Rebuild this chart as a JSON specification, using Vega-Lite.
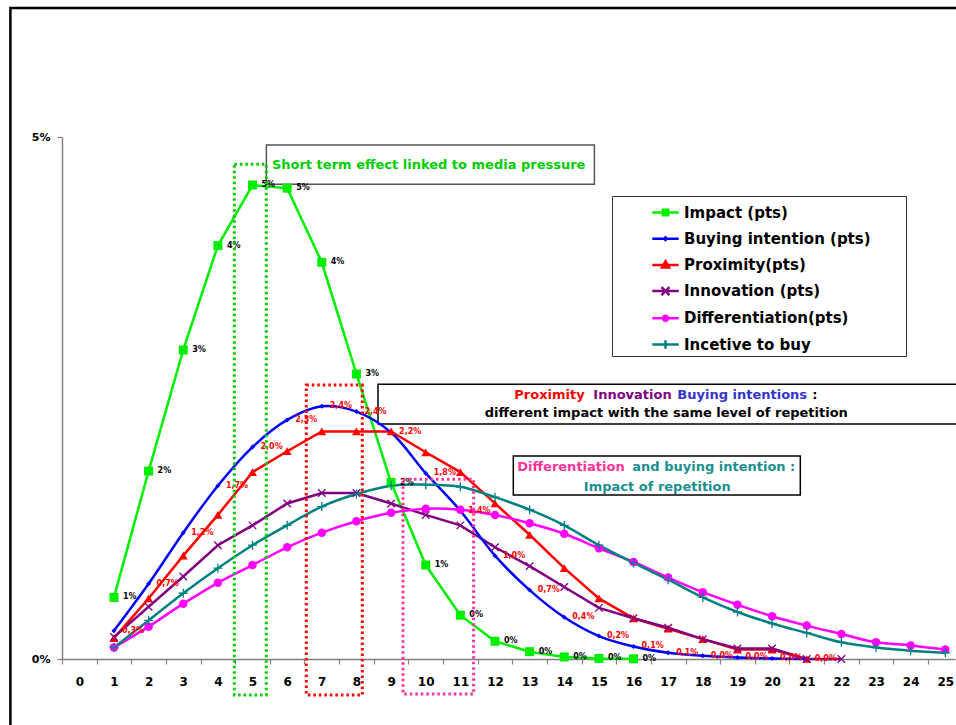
{
  "$schema": "https://vega.github.io/schema/vega-lite/v6.json",
  "width": 893,
  "height": 522,
  "autosize": "none",
  "padding": {"left": 62, "top": 137, "right": 1, "bottom": 66},
  "background": "white",
  "config": {
    "view": {"stroke": null},
    "locale": {"number": {"decimal": ",", "thousands": ".", "grouping": [3], "currency": ["", " €"]}},
    "font": "DejaVu Sans"
  },
  "datasets": {"main": [
    {"series": "Impact (pts)", "x": 1, "v": 0.0059}, {"series": "Impact (pts)", "x": 2, "v": 0.0180}, {"series": "Impact (pts)", "x": 3, "v": 0.0296}, {"series": "Impact (pts)", "x": 4, "v": 0.0396}, {"series": "Impact (pts)", "x": 5, "v": 0.0454}, {"series": "Impact (pts)", "x": 6, "v": 0.0451}, {"series": "Impact (pts)", "x": 7, "v": 0.0380}, {"series": "Impact (pts)", "x": 8, "v": 0.0273}, {"series": "Impact (pts)", "x": 9, "v": 0.0169}, {"series": "Impact (pts)", "x": 10, "v": 0.0090}, {"series": "Impact (pts)", "x": 11, "v": 0.0042}, {"series": "Impact (pts)", "x": 12, "v": 0.0017}, {"series": "Impact (pts)", "x": 13, "v": 0.0007}, {"series": "Impact (pts)", "x": 14, "v": 0.0002}, {"series": "Impact (pts)", "x": 15, "v": 0.00005}, {"series": "Impact (pts)", "x": 16, "v": 0.00002},
    {"series": "Buying intention (pts)", "x": 1, "v": 0.0027}, {"series": "Buying intention (pts)", "x": 2, "v": 0.0072}, {"series": "Buying intention (pts)", "x": 3, "v": 0.0121}, {"series": "Buying intention (pts)", "x": 4, "v": 0.0166}, {"series": "Buying intention (pts)", "x": 5, "v": 0.0203}, {"series": "Buying intention (pts)", "x": 6, "v": 0.0229}, {"series": "Buying intention (pts)", "x": 7, "v": 0.0242}, {"series": "Buying intention (pts)", "x": 8, "v": 0.0237}, {"series": "Buying intention (pts)", "x": 9, "v": 0.0217}, {"series": "Buying intention (pts)", "x": 10, "v": 0.0178}, {"series": "Buying intention (pts)", "x": 11, "v": 0.0142}, {"series": "Buying intention (pts)", "x": 12, "v": 0.0099}, {"series": "Buying intention (pts)", "x": 13, "v": 0.0066}, {"series": "Buying intention (pts)", "x": 14, "v": 0.0040}, {"series": "Buying intention (pts)", "x": 15, "v": 0.0022}, {"series": "Buying intention (pts)", "x": 16, "v": 0.0012}, {"series": "Buying intention (pts)", "x": 17, "v": 0.0006}, {"series": "Buying intention (pts)", "x": 18, "v": 0.0003}, {"series": "Buying intention (pts)", "x": 19, "v": 0.00015}, {"series": "Buying intention (pts)", "x": 20, "v": 0.00005}, {"series": "Buying intention (pts)", "x": 21, "v": 0},
    {"series": "Proximity(pts)", "x": 1, "v": 0.0020}, {"series": "Proximity(pts)", "x": 2, "v": 0.0058}, {"series": "Proximity(pts)", "x": 3, "v": 0.0099}, {"series": "Proximity(pts)", "x": 4, "v": 0.0138}, {"series": "Proximity(pts)", "x": 5, "v": 0.0179}, {"series": "Proximity(pts)", "x": 6, "v": 0.0199}, {"series": "Proximity(pts)", "x": 7, "v": 0.0218}, {"series": "Proximity(pts)", "x": 8, "v": 0.0218}, {"series": "Proximity(pts)", "x": 9, "v": 0.0218}, {"series": "Proximity(pts)", "x": 10, "v": 0.0198}, {"series": "Proximity(pts)", "x": 11, "v": 0.0179}, {"series": "Proximity(pts)", "x": 12, "v": 0.0149}, {"series": "Proximity(pts)", "x": 13, "v": 0.0119}, {"series": "Proximity(pts)", "x": 14, "v": 0.0087}, {"series": "Proximity(pts)", "x": 15, "v": 0.0058}, {"series": "Proximity(pts)", "x": 16, "v": 0.0039}, {"series": "Proximity(pts)", "x": 17, "v": 0.0029}, {"series": "Proximity(pts)", "x": 18, "v": 0.0019}, {"series": "Proximity(pts)", "x": 19, "v": 0.0009}, {"series": "Proximity(pts)", "x": 20, "v": 0.0009}, {"series": "Proximity(pts)", "x": 21, "v": 0},
    {"series": "Innovation (pts)", "x": 1, "v": 0.0021}, {"series": "Innovation (pts)", "x": 2, "v": 0.0050}, {"series": "Innovation (pts)", "x": 3, "v": 0.0079}, {"series": "Innovation (pts)", "x": 4, "v": 0.0109}, {"series": "Innovation (pts)", "x": 5, "v": 0.0128}, {"series": "Innovation (pts)", "x": 6, "v": 0.0149}, {"series": "Innovation (pts)", "x": 7, "v": 0.0159}, {"series": "Innovation (pts)", "x": 8, "v": 0.0159}, {"series": "Innovation (pts)", "x": 9, "v": 0.0149}, {"series": "Innovation (pts)", "x": 10, "v": 0.0138}, {"series": "Innovation (pts)", "x": 11, "v": 0.0128}, {"series": "Innovation (pts)", "x": 12, "v": 0.0107}, {"series": "Innovation (pts)", "x": 13, "v": 0.0089}, {"series": "Innovation (pts)", "x": 14, "v": 0.0069}, {"series": "Innovation (pts)", "x": 15, "v": 0.0049}, {"series": "Innovation (pts)", "x": 16, "v": 0.0039}, {"series": "Innovation (pts)", "x": 17, "v": 0.0030}, {"series": "Innovation (pts)", "x": 18, "v": 0.0019}, {"series": "Innovation (pts)", "x": 19, "v": 0.0010}, {"series": "Innovation (pts)", "x": 20, "v": 0.0010}, {"series": "Innovation (pts)", "x": 21, "v": 0}, {"series": "Innovation (pts)", "x": 22, "v": 0},
    {"series": "Differentiation(pts)", "x": 1, "v": 0.0011}, {"series": "Differentiation(pts)", "x": 2, "v": 0.0031}, {"series": "Differentiation(pts)", "x": 3, "v": 0.0053}, {"series": "Differentiation(pts)", "x": 4, "v": 0.0073}, {"series": "Differentiation(pts)", "x": 5, "v": 0.0090}, {"series": "Differentiation(pts)", "x": 6, "v": 0.0107}, {"series": "Differentiation(pts)", "x": 7, "v": 0.0121}, {"series": "Differentiation(pts)", "x": 8, "v": 0.0132}, {"series": "Differentiation(pts)", "x": 9, "v": 0.0140}, {"series": "Differentiation(pts)", "x": 10, "v": 0.0144}, {"series": "Differentiation(pts)", "x": 11, "v": 0.0143}, {"series": "Differentiation(pts)", "x": 12, "v": 0.0138}, {"series": "Differentiation(pts)", "x": 13, "v": 0.0130}, {"series": "Differentiation(pts)", "x": 14, "v": 0.0120}, {"series": "Differentiation(pts)", "x": 15, "v": 0.0106}, {"series": "Differentiation(pts)", "x": 16, "v": 0.0093}, {"series": "Differentiation(pts)", "x": 17, "v": 0.0078}, {"series": "Differentiation(pts)", "x": 18, "v": 0.0064}, {"series": "Differentiation(pts)", "x": 19, "v": 0.0052}, {"series": "Differentiation(pts)", "x": 20, "v": 0.0041}, {"series": "Differentiation(pts)", "x": 21, "v": 0.0032}, {"series": "Differentiation(pts)", "x": 22, "v": 0.0024}, {"series": "Differentiation(pts)", "x": 23, "v": 0.0016}, {"series": "Differentiation(pts)", "x": 24, "v": 0.0013}, {"series": "Differentiation(pts)", "x": 25, "v": 0.0009},
    {"series": "Incetive to buy", "x": 1, "v": 0.0011}, {"series": "Incetive to buy", "x": 2, "v": 0.0037}, {"series": "Incetive to buy", "x": 3, "v": 0.0063}, {"series": "Incetive to buy", "x": 4, "v": 0.0087}, {"series": "Incetive to buy", "x": 5, "v": 0.0109}, {"series": "Incetive to buy", "x": 6, "v": 0.0128}, {"series": "Incetive to buy", "x": 7, "v": 0.0146}, {"series": "Incetive to buy", "x": 8, "v": 0.0158}, {"series": "Incetive to buy", "x": 9, "v": 0.0166}, {"series": "Incetive to buy", "x": 10, "v": 0.0167}, {"series": "Incetive to buy", "x": 11, "v": 0.0165}, {"series": "Incetive to buy", "x": 12, "v": 0.0155}, {"series": "Incetive to buy", "x": 13, "v": 0.0143}, {"series": "Incetive to buy", "x": 14, "v": 0.0128}, {"series": "Incetive to buy", "x": 15, "v": 0.0109}, {"series": "Incetive to buy", "x": 16, "v": 0.0092}, {"series": "Incetive to buy", "x": 17, "v": 0.0076}, {"series": "Incetive to buy", "x": 18, "v": 0.0059}, {"series": "Incetive to buy", "x": 19, "v": 0.0045}, {"series": "Incetive to buy", "x": 20, "v": 0.0034}, {"series": "Incetive to buy", "x": 21, "v": 0.0025}, {"series": "Incetive to buy", "x": 22, "v": 0.0016}, {"series": "Incetive to buy", "x": 23, "v": 0.0011}, {"series": "Incetive to buy", "x": 24, "v": 0.0008}, {"series": "Incetive to buy", "x": 25, "v": 0.0006}
  ], "one": [{"n": 1}]},
  "resolve": {"scale": {"x": "independent", "y": "independent"}, "axis": {"x": "independent", "y": "independent"}},
  "layer": [
    {"data": {"name": "one"},
     "layer": [
      {"mark": {"type": "rect", "fillOpacity": 0, "stroke": "#000", "strokeWidth": 2.5},
       "encoding": {"x": {"datum": -1.99, "type": "quantitative", "scale": {"domain": [-0.5, 25.28], "nice": false, "zero": false}, "axis": {"orient": "top", "labels": false, "ticks": false, "domain": false, "grid": false, "title": null}}, "x2": {"datum": 40},
                    "y": {"datum": 0.06236, "type": "quantitative", "scale": {"domain": [0, 0.05], "nice": false, "zero": false}, "axis": {"orient": "right", "labels": false, "ticks": false, "domain": false, "grid": false, "title": null}}, "y2": {"datum": -0.2}}},
      {"mark": {"type": "rect", "fill": "white", "stroke": "#555", "strokeWidth": 1.5},
       "encoding": {"x": {"datum": 5.40, "type": "quantitative", "axis": {"orient": "top", "labels": false, "ticks": false, "domain": false, "grid": false, "title": null}}, "x2": {"datum": 14.87},
                    "y": {"datum": 0.04924, "type": "quantitative", "axis": {"orient": "right", "labels": false, "ticks": false, "domain": false, "grid": false, "title": null}}, "y2": {"datum": 0.04547}}},
      {"mark": {"type": "rect", "fill": "white", "stroke": "#000", "strokeWidth": 1.5},
       "encoding": {"x": {"datum": 8.623, "type": "quantitative", "axis": {"orient": "top", "labels": false, "ticks": false, "domain": false, "grid": false, "title": null}}, "x2": {"datum": 27},
                    "y": {"datum": 0.02631, "type": "quantitative", "axis": {"orient": "right", "labels": false, "ticks": false, "domain": false, "grid": false, "title": null}}, "y2": {"datum": 0.02250}}},
      {"mark": {"type": "rect", "fill": "white", "stroke": "#000", "strokeWidth": 1.5},
       "encoding": {"x": {"datum": 12.529, "type": "quantitative", "axis": {"orient": "top", "labels": false, "ticks": false, "domain": false, "grid": false, "title": null}}, "x2": {"datum": 20.814},
                    "y": {"datum": 0.01944, "type": "quantitative", "axis": {"orient": "right", "labels": false, "ticks": false, "domain": false, "grid": false, "title": null}}, "y2": {"datum": 0.01571}}},
      {"mark": {"type": "text", "text": "Short term effect linked to media pressure", "align": "left", "baseline": "middle", "font": "DejaVu Sans", "fontWeight": "bold", "fontSize": 13, "color": "#00cc00"},
       "encoding": {"x": {"datum": 5.56, "type": "quantitative", "axis": {"orient": "top", "labels": false, "ticks": false, "domain": false, "grid": false, "title": null}}, "y": {"datum": 0.04732, "type": "quantitative", "axis": {"orient": "right", "labels": false, "ticks": false, "domain": false, "grid": false, "title": null}}}},
      {"mark": {"type": "text", "text": "Proximity", "align": "left", "baseline": "middle", "font": "DejaVu Sans", "fontWeight": "bold", "fontSize": 13, "color": "#ff0000"},
       "encoding": {"x": {"datum": 12.558, "type": "quantitative", "axis": {"orient": "top", "labels": false, "ticks": false, "domain": false, "grid": false, "title": null}}, "y": {"datum": 0.02529, "type": "quantitative", "axis": {"orient": "right", "labels": false, "ticks": false, "domain": false, "grid": false, "title": null}}}},
      {"mark": {"type": "text", "text": "Innovation", "align": "left", "baseline": "middle", "font": "DejaVu Sans", "fontWeight": "bold", "fontSize": 13, "color": "#800080"},
       "encoding": {"x": {"datum": 14.838, "type": "quantitative", "axis": {"orient": "top", "labels": false, "ticks": false, "domain": false, "grid": false, "title": null}}, "y": {"datum": 0.02529, "type": "quantitative", "axis": {"orient": "right", "labels": false, "ticks": false, "domain": false, "grid": false, "title": null}}}},
      {"mark": {"type": "text", "text": "Buying intentions", "align": "left", "baseline": "middle", "font": "DejaVu Sans", "fontWeight": "bold", "fontSize": 13, "color": "#3333cc"},
       "encoding": {"x": {"datum": 17.263, "type": "quantitative", "axis": {"orient": "top", "labels": false, "ticks": false, "domain": false, "grid": false, "title": null}}, "y": {"datum": 0.02529, "type": "quantitative", "axis": {"orient": "right", "labels": false, "ticks": false, "domain": false, "grid": false, "title": null}}}},
      {"mark": {"type": "text", "text": ":", "align": "left", "baseline": "middle", "font": "DejaVu Sans", "fontWeight": "bold", "fontSize": 13, "color": "#000"},
       "encoding": {"x": {"datum": 21.16, "type": "quantitative", "axis": {"orient": "top", "labels": false, "ticks": false, "domain": false, "grid": false, "title": null}}, "y": {"datum": 0.02529, "type": "quantitative", "axis": {"orient": "right", "labels": false, "ticks": false, "domain": false, "grid": false, "title": null}}}},
      {"mark": {"type": "text", "text": "different impact with the same level of repetition", "align": "center", "baseline": "middle", "font": "DejaVu Sans", "fontWeight": "bold", "fontSize": 13, "color": "#000"},
       "encoding": {"x": {"datum": 16.946, "type": "quantitative", "axis": {"orient": "top", "labels": false, "ticks": false, "domain": false, "grid": false, "title": null}}, "y": {"datum": 0.02356, "type": "quantitative", "axis": {"orient": "right", "labels": false, "ticks": false, "domain": false, "grid": false, "title": null}}}},
      {"mark": {"type": "text", "text": "Differentiation", "align": "left", "baseline": "middle", "font": "DejaVu Sans", "fontWeight": "bold", "fontSize": 13, "color": "#ff3399"},
       "encoding": {"x": {"datum": 12.644, "type": "quantitative", "axis": {"orient": "top", "labels": false, "ticks": false, "domain": false, "grid": false, "title": null}}, "y": {"datum": 0.01836, "type": "quantitative", "axis": {"orient": "right", "labels": false, "ticks": false, "domain": false, "grid": false, "title": null}}}},
      {"mark": {"type": "text", "text": "and buying intention :", "align": "left", "baseline": "middle", "font": "DejaVu Sans", "fontWeight": "bold", "fontSize": 13, "color": "#1a8f8f"},
       "encoding": {"x": {"datum": 15.964, "type": "quantitative", "axis": {"orient": "top", "labels": false, "ticks": false, "domain": false, "grid": false, "title": null}}, "y": {"datum": 0.01836, "type": "quantitative", "axis": {"orient": "right", "labels": false, "ticks": false, "domain": false, "grid": false, "title": null}}}},
      {"mark": {"type": "text", "text": "Impact of repetition", "align": "center", "baseline": "middle", "font": "DejaVu Sans", "fontWeight": "bold", "fontSize": 13, "color": "#1a8f8f"},
       "encoding": {"x": {"datum": 16.686, "type": "quantitative", "axis": {"orient": "top", "labels": false, "ticks": false, "domain": false, "grid": false, "title": null}}, "y": {"datum": 0.01648, "type": "quantitative", "axis": {"orient": "right", "labels": false, "ticks": false, "domain": false, "grid": false, "title": null}}}}
     ]},
    {"data": {"name": "main"},
     "layer": [
      {"transform": [{"filter": "datum.series === 'Impact (pts)'"}],
       "mark": {"type": "line", "strokeWidth": 2.5, "color": "#00ee00"},
       "encoding": {
         "x": {"field": "x", "type": "quantitative",
           "scale": {"domain": [-0.5, 25.28], "nice": false, "zero": false},
           "axis": {"orient": "bottom", "values": [-0.5, 0.5, 1.5, 2.5, 3.5, 4.5, 5.5, 6.5, 7.5, 8.5, 9.5, 10.5, 11.5, 12.5, 13.5, 14.5, 15.5, 16.5, 17.5, 18.5, 19.5, 20.5, 21.5, 22.5, 23.5, 24.5],
             "tickCount": 40,
             "labelExpr": "format(datum.value + 0.5, 'd')", "labelOffset": 17.32, "labelFlush": false, "labelOverlap": false, "labelBound": false,
             "grid": false, "title": null, "domainColor": "#808080", "domainWidth": 1.5, "tickColor": "#808080", "tickSize": 5, "tickWidth": 1.2,
             "labelFont": "DejaVu Sans", "labelFontWeight": "bold", "labelFontSize": 12, "labelColor": "#000", "labelPadding": 12}},
         "y": {"field": "v", "type": "quantitative",
           "scale": {"domain": [0, 0.05], "nice": false, "zero": false},
           "axis": {"orient": "left", "values": [0, 0.05], "tickCount": 10, "format": ".0%", "labelFlush": false, "labelOverlap": false, "grid": false, "title": null,
             "domainColor": "#808080", "domainWidth": 1.5, "tickColor": "#808080", "tickSize": 5, "tickWidth": 1.2,
             "labelFont": "DejaVu Sans", "labelFontWeight": "bold", "labelFontSize": 11, "labelColor": "#000", "labelPadding": 7}}}},
      {"transform": [{"filter": "datum.series === 'Proximity(pts)'"}], "mark": {"type": "line", "strokeWidth": 2.5, "color": "#ff0000"},
       "encoding": {"x": {"field": "x", "type": "quantitative"}, "y": {"field": "v", "type": "quantitative"}}},
      {"transform": [{"filter": "datum.series === 'Innovation (pts)'"}], "mark": {"type": "line", "strokeWidth": 2.5, "color": "#800080"},
       "encoding": {"x": {"field": "x", "type": "quantitative"}, "y": {"field": "v", "type": "quantitative"}}},
      {"transform": [{"filter": "datum.series === 'Buying intention (pts)'"}], "mark": {"type": "line", "strokeWidth": 2.5, "color": "#0000ff", "interpolate": "catmull-rom"},
       "encoding": {"x": {"field": "x", "type": "quantitative"}, "y": {"field": "v", "type": "quantitative"}}},
      {"transform": [{"filter": "datum.series === 'Differentiation(pts)'"}], "mark": {"type": "line", "strokeWidth": 2.5, "color": "#ff00ff", "interpolate": "catmull-rom"},
       "encoding": {"x": {"field": "x", "type": "quantitative"}, "y": {"field": "v", "type": "quantitative"}}},
      {"transform": [{"filter": "datum.series === 'Incetive to buy'"}], "mark": {"type": "line", "strokeWidth": 2.5, "color": "#008080", "interpolate": "catmull-rom"},
       "encoding": {"x": {"field": "x", "type": "quantitative"}, "y": {"field": "v", "type": "quantitative"}}},
      {"transform": [{"filter": "datum.series === 'Impact (pts)'"}], "mark": {"type": "point", "shape": "square", "filled": true, "size": 81, "color": "#00ee00", "opacity": 1},
       "encoding": {"x": {"field": "x", "type": "quantitative"}, "y": {"field": "v", "type": "quantitative"}}},
      {"transform": [{"filter": "datum.series === 'Buying intention (pts)'"}], "mark": {"type": "point", "shape": "diamond", "filled": true, "size": 25, "color": "#0000ff", "opacity": 1},
       "encoding": {"x": {"field": "x", "type": "quantitative"}, "y": {"field": "v", "type": "quantitative"}}},
      {"transform": [{"filter": "datum.series === 'Proximity(pts)'"}], "mark": {"type": "point", "shape": "triangle-up", "filled": true, "size": 80, "color": "#ff0000", "opacity": 1},
       "encoding": {"x": {"field": "x", "type": "quantitative"}, "y": {"field": "v", "type": "quantitative"}}},
      {"transform": [{"filter": "datum.series === 'Innovation (pts)'"}], "mark": {"type": "point", "shape": "M-1,-1L1,1M-1,1L1,-1", "filled": false, "size": 56, "strokeWidth": 1.3, "color": "#800080", "opacity": 1},
       "encoding": {"x": {"field": "x", "type": "quantitative"}, "y": {"field": "v", "type": "quantitative"}}},
      {"transform": [{"filter": "datum.series === 'Differentiation(pts)'"}], "mark": {"type": "point", "shape": "circle", "filled": true, "size": 72, "color": "#ff00ff", "opacity": 1},
       "encoding": {"x": {"field": "x", "type": "quantitative"}, "y": {"field": "v", "type": "quantitative"}}},
      {"transform": [{"filter": "datum.series === 'Incetive to buy'"}], "mark": {"type": "point", "shape": "M-1,0H1M0,-1V1", "filled": false, "size": 81, "strokeWidth": 1.3, "color": "#008080", "opacity": 1},
       "encoding": {"x": {"field": "x", "type": "quantitative"}, "y": {"field": "v", "type": "quantitative"}}},
      {"transform": [{"filter": "datum.series === 'Impact (pts)'"}],
       "mark": {"type": "text", "align": "left", "baseline": "middle", "dx": 9, "font": "DejaVu Sans", "fontWeight": "bold", "fontSize": 8, "color": "#000"},
       "encoding": {"x": {"field": "x", "type": "quantitative"}, "y": {"field": "v", "type": "quantitative"}, "text": {"field": "v", "type": "quantitative", "format": ".0%"}}},
      {"transform": [{"filter": "datum.series === 'Buying intention (pts)'"}],
       "mark": {"type": "text", "align": "left", "baseline": "middle", "dx": 8, "font": "DejaVu Sans", "fontWeight": "bold", "fontSize": 8, "color": "#ff0000"},
       "encoding": {"x": {"field": "x", "type": "quantitative"}, "y": {"field": "v", "type": "quantitative"}, "text": {"field": "v", "type": "quantitative", "format": ".1%"}}},
      {"transform": [{"filter": "datum.x > 100"}],
       "mark": {"type": "point", "filled": true, "strokeWidth": 2.5, "opacity": 1},
       "encoding": {"x": {"field": "x", "type": "quantitative"}, "y": {"field": "v", "type": "quantitative"},
         "fill": {"field": "series", "type": "nominal",
          "scale": {"domain": ["Impact (pts)", "Buying intention (pts)", "Proximity(pts)", "Innovation (pts)", "Differentiation(pts)", "Incetive to buy"], "range": ["#00ee00", "#0000ff", "#ff0000", "#800080", "#ff00ff", "#008080"]},
          "legend": {"orient": "none", "legendX": 550, "legendY": 59, "title": "xxxx", "titleOrient": "right", "titleColor": "white", "titleFontSize": 12, "titlePadding": 2,
            "symbolSize": 697, "symbolStrokeWidth": 2.5, "symbolOffset": 37, "rowPadding": 3.2, "labelOffset": 4, "padding": 2,
            "labelFont": "DejaVu Sans", "labelFontWeight": "bold", "labelFontSize": 15, "labelColor": "#000", "labelLimit": 500,
            "strokeColor": "#333", "fillColor": "white"}},
         "stroke": {"field": "series", "type": "nominal",
          "scale": {"domain": ["Impact (pts)", "Buying intention (pts)", "Proximity(pts)", "Innovation (pts)", "Differentiation(pts)", "Incetive to buy"], "range": ["#00ee00", "#0000ff", "#ff0000", "#800080", "#ff00ff", "#008080"]},
          "legend": {"orient": "none", "legendX": 550, "legendY": 59, "title": "xxxx", "titleOrient": "right", "titleColor": "white", "titleFontSize": 12, "titlePadding": 2,
            "symbolSize": 697, "symbolStrokeWidth": 2.5, "symbolOffset": 37, "rowPadding": 3.2, "labelOffset": 4, "padding": 2,
            "labelFont": "DejaVu Sans", "labelFontWeight": "bold", "labelFontSize": 15, "labelColor": "#000", "labelLimit": 500,
            "strokeColor": "#333", "fillColor": "white"}},
         "shape": {"field": "series", "type": "nominal",
          "scale": {"domain": ["Impact (pts)", "Buying intention (pts)", "Proximity(pts)", "Innovation (pts)", "Differentiation(pts)", "Incetive to buy"],
                    "range": ["M-1,0H1M-0.2,-0.2H0.2V0.2H-0.2Z", "M-1,0H1M0,-0.1L0.1,0L0,0.1L-0.1,0Z", "M-1,0H1M0,-0.28L0.27,0.2H-0.27Z", "M-1,0H1M-0.3,-0.3L0.3,0.3M-0.3,0.3L0.3,-0.3", "M-1,0H1M-0.2,0L-0.14,-0.14L0,-0.2L0.14,-0.14L0.2,0L0.14,0.14L0,0.2L-0.14,0.14Z", "M-1,0H1M0,-0.33V0.33"]},
          "legend": {"orient": "none", "legendX": 550, "legendY": 59, "title": "xxxx", "titleOrient": "right", "titleColor": "white", "titleFontSize": 12, "titlePadding": 2,
            "symbolSize": 697, "symbolStrokeWidth": 2.5, "symbolOffset": 37, "rowPadding": 3.2, "labelOffset": 4, "padding": 2,
            "labelFont": "DejaVu Sans", "labelFontWeight": "bold", "labelFontSize": 15, "labelColor": "#000", "labelLimit": 500,
            "strokeColor": "#333", "fillColor": "white"}}}}
     ]},
    {"data": {"name": "one"},
     "layer": [
      {"mark": {"type": "rect", "fillOpacity": 0, "stroke": "#00cc00", "strokeWidth": 3, "strokeDash": [2.5, 3]},
       "encoding": {"x": {"datum": 4.475, "type": "quantitative", "scale": {"domain": [-0.5, 25.28], "nice": false, "zero": false}, "axis": {"orient": "top", "labels": false, "ticks": false, "domain": false, "grid": false, "title": null}}, "x2": {"datum": 5.398},
                    "y": {"datum": 0.04739, "type": "quantitative", "scale": {"domain": [0, 0.05], "nice": false, "zero": false}, "axis": {"orient": "right", "labels": false, "ticks": false, "domain": false, "grid": false, "title": null}}, "y2": {"datum": -0.00345}}},
      {"mark": {"type": "rect", "fillOpacity": 0, "stroke": "#ff0000", "strokeWidth": 3, "strokeDash": [2.5, 3]},
       "encoding": {"x": {"datum": 6.553, "type": "quantitative", "axis": {"orient": "top", "labels": false, "ticks": false, "domain": false, "grid": false, "title": null}}, "x2": {"datum": 8.170},
                    "y": {"datum": 0.02625, "type": "quantitative", "axis": {"orient": "right", "labels": false, "ticks": false, "domain": false, "grid": false, "title": null}}, "y2": {"datum": -0.00345}}},
      {"mark": {"type": "rect", "fillOpacity": 0, "stroke": "#ff3399", "strokeWidth": 3, "strokeDash": [2.5, 3]},
       "encoding": {"x": {"datum": 9.345, "type": "quantitative", "axis": {"orient": "top", "labels": false, "ticks": false, "domain": false, "grid": false, "title": null}}, "x2": {"datum": 11.383},
                    "y": {"datum": 0.01721, "type": "quantitative", "axis": {"orient": "right", "labels": false, "ticks": false, "domain": false, "grid": false, "title": null}}, "y2": {"datum": -0.00335}}}
     ]}
  ]
}
